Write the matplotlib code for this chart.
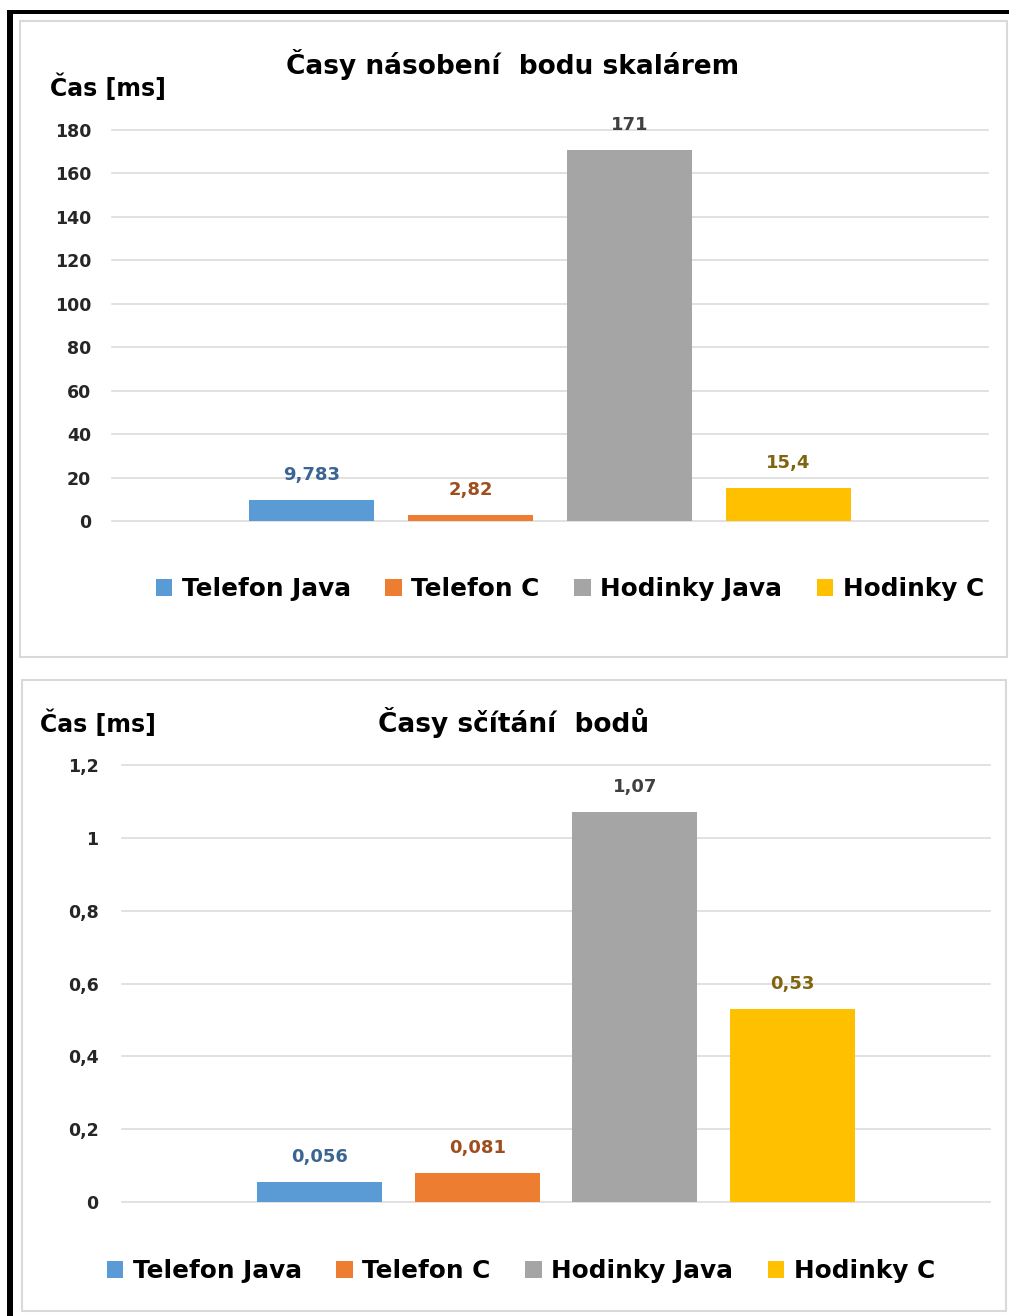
import matplotlib.pyplot as plt
from matplotlib.patches import Rectangle
from matplotlib.ticker import FuncFormatter, MultipleLocator

plt.rcParams['font.family'] = ['DejaVu Sans']

series = ["Telefon Java", "Telefon C", "Hodinky Java", "Hodinky C"]
colors = ["#5B9BD5", "#ED7D31", "#A5A5A5", "#FFC000"]
label_colors = ["#3A6593", "#9E4E1E", "#404040", "#7F6510"]

nasobeni = [9.783, 2.82, 171, 15.4]
scitani = [0.056, 0.081, 1.07, 0.53]

W, H = 1009, 1316
fig = plt.figure(figsize=(W / 100, H / 100), dpi=100)


def box(x0, y0, x1, y1):
    return [x0 / W, 1 - y1 / H, (x1 - x0) / W, (y1 - y0) / H]


def fx(x):
    return x / W


def fy(y):
    return 1 - y / H


def comma(v, pos=None):
    return f"{v:g}".replace(".", ",")


# black frame (left and top) and the grey chart borders
fig.add_artist(Rectangle((fx(7), 0), fx(6), fy(10), transform=fig.transFigure,
                         facecolor="black", edgecolor="none"))
fig.add_artist(Rectangle((fx(7), fy(14)), 1, 4 / H, transform=fig.transFigure,
                         facecolor="black", edgecolor="none"))
for x0, y0, x1, y1 in [(20, 21, 1007, 657), (22, 680, 1006, 1311)]:
    fig.add_artist(Rectangle((fx(x0), fy(y1)), fx(x1 - x0), (y1 - y0) / H,
                             transform=fig.transFigure, facecolor="none",
                             edgecolor="#D9D9D9", lw=1.5))


def chart(rect, values, ymax, step, title, title_xy, ylab_xy, leg_xy, pad):
    ax = fig.add_axes(box(*rect))
    spacing, width = 0.1815, 0.1438
    for i, (v, name) in enumerate(zip(values, series)):
        x = (i - 1.5) * spacing
        ax.bar(x, v, width, color=colors[i], label=name, zorder=3)
        ax.annotate(comma(v), (x, v), xytext=(0, 18), textcoords="offset points",
                    ha="center", va="center", fontsize=13, fontweight="bold",
                    color=label_colors[i])
    ax.set_xlim(-0.5, 0.5)
    ax.set_ylim(0, ymax)
    ax.yaxis.set_major_locator(MultipleLocator(step))
    ax.yaxis.set_major_formatter(FuncFormatter(comma))
    ax.grid(axis="y", color="#D9D9D9", lw=1.1, zorder=0)
    for g in ax.get_ygridlines():
        g.set_clip_on(False)
    ax.set_xticks([])
    for s in ax.spines.values():
        s.set_visible(False)
    ax.tick_params(axis="y", length=0, pad=pad, labelsize=12.5, labelcolor="#262626")
    for t in ax.get_yticklabels():
        t.set_fontweight("bold")
    fig.text(fx(title_xy[0]), fy(title_xy[1]), title, ha="center", va="center",
             fontsize=19, fontweight="bold", color="black")
    fig.text(fx(ylab_xy[0]), fy(ylab_xy[1]), "Čas [ms]", ha="left", va="center",
             fontsize=17, fontweight="bold", color="black")
    fig.legend(*ax.get_legend_handles_labels(), loc="center",
               bbox_to_anchor=(fx(leg_xy[0]), fy(leg_xy[1])), ncol=4,
               frameon=False, prop={"weight": "bold", "size": 17.8},
               handlelength=0.65, handleheight=0.65, handletextpad=0.4,
               columnspacing=1.4)
    return ax


chart((112, 130, 988, 521), nasobeni, 180, 20, "Časy násobení  bodu skalárem",
      (513, 65), (50, 87), (570, 589), 15)
chart((122, 765, 990, 1202), scitani, 1.2, 0.2, "Časy sčítání  bodů",
      (514, 722), (40, 723), (521, 1271), 17)

fig.savefig("out.png", dpi=100, facecolor="white")
